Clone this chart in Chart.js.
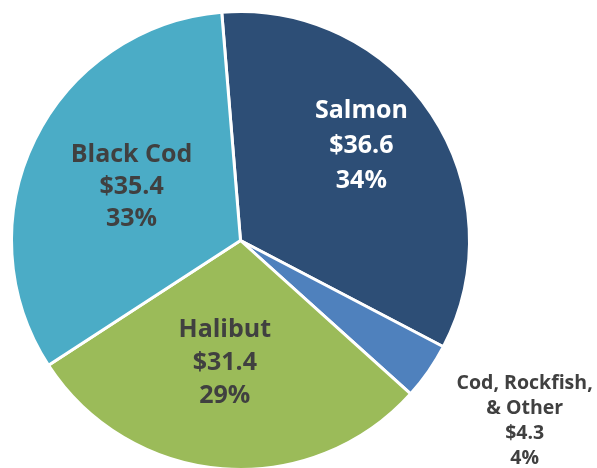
<!DOCTYPE html>
<html lang="en">
<head>
  <meta charset="UTF-8" />
  <title>Fishery Value Pie</title>
  <script src="https://cdn.jsdelivr.net/npm/chart.js"></script>
  <style>
    html, body { margin: 0; padding: 0; background: #fff; overflow: hidden; }
    #wrap { position: relative; width: 597px; height: 480px; }
  </style>
</head>
<body>
  <div id="wrap"><canvas id="pieChart" width="597" height="480"></canvas></div>
  <script>
    // data
    const categories = ['Salmon', 'Cod, Rockfish,|& Other', 'Halibut', 'Black Cod'];
    const values = [36.6, 4.3, 31.4, 35.4];
    const valueLabels = ['$36.6', '$4.3', '$31.4', '$35.4'];
    const percentLabels = ['34%', '4%', '29%', '33%'];

    const sliceColors = ['#2d4e76', '#4f81bd', '#9bbb59', '#4bacc6'];
    const labelColors = ['#ffffff', '#404040', '#404040', '#404040'];
    const labelRadius = [0.67, 1.47, 0.54, 0.53];
    const labelTurn = [-4.5, -2.4, 2.8, 0];   // degrees nudge along the arc
    const labelFont = [25, 19.5, 25, 25];
    const lineGap = [35, 25, 33, 32];

    const sliceLabels = {
      id: 'sliceLabels',
      afterDatasetsDraw(chart) {
        const ctx = chart.ctx;
        const meta = chart.getDatasetMeta(0);
        meta.data.forEach((arc, i) => {
          const p = arc.getProps(['x', 'y', 'startAngle', 'endAngle', 'outerRadius'], true);
          const mid = (p.startAngle + p.endAngle) / 2 + labelTurn[i] * Math.PI / 180;
          const r = p.outerRadius * labelRadius[i];
          const cx = p.x + Math.cos(mid) * r;
          const cy = p.y + Math.sin(mid) * r;
          const lines = categories[i].split('|').concat([valueLabels[i], percentLabels[i]]);
          ctx.save();
          ctx.fillStyle = labelColors[i];
          ctx.font = 'bold ' + labelFont[i] + 'px "Open Sans", sans-serif';
          ctx.textAlign = 'center';
          ctx.textBaseline = 'middle';
          const top = cy - (lines.length - 1) * lineGap[i] / 2;
          lines.forEach((t, j) => ctx.fillText(t, cx, top + j * lineGap[i]));
          ctx.restore();
        });
      }
    };

    new Chart(document.getElementById('pieChart').getContext('2d'), {
      type: 'pie',
      data: {
        labels: categories.map(c => c.replace('|', ' ')),
        datasets: [{
          data: values,
          backgroundColor: sliceColors,
          borderColor: '#ffffff',
          borderWidth: 3
        }]
      },
      options: {
        responsive: false,
        animation: false,
        rotation: -4.7,
        layout: { padding: { left: 10, top: 10, right: 126, bottom: 9 } },
        plugins: {
          legend: { display: false },
          tooltip: { enabled: false }
        }
      },
      plugins: [sliceLabels]
    });
  </script>
</body>
</html>
